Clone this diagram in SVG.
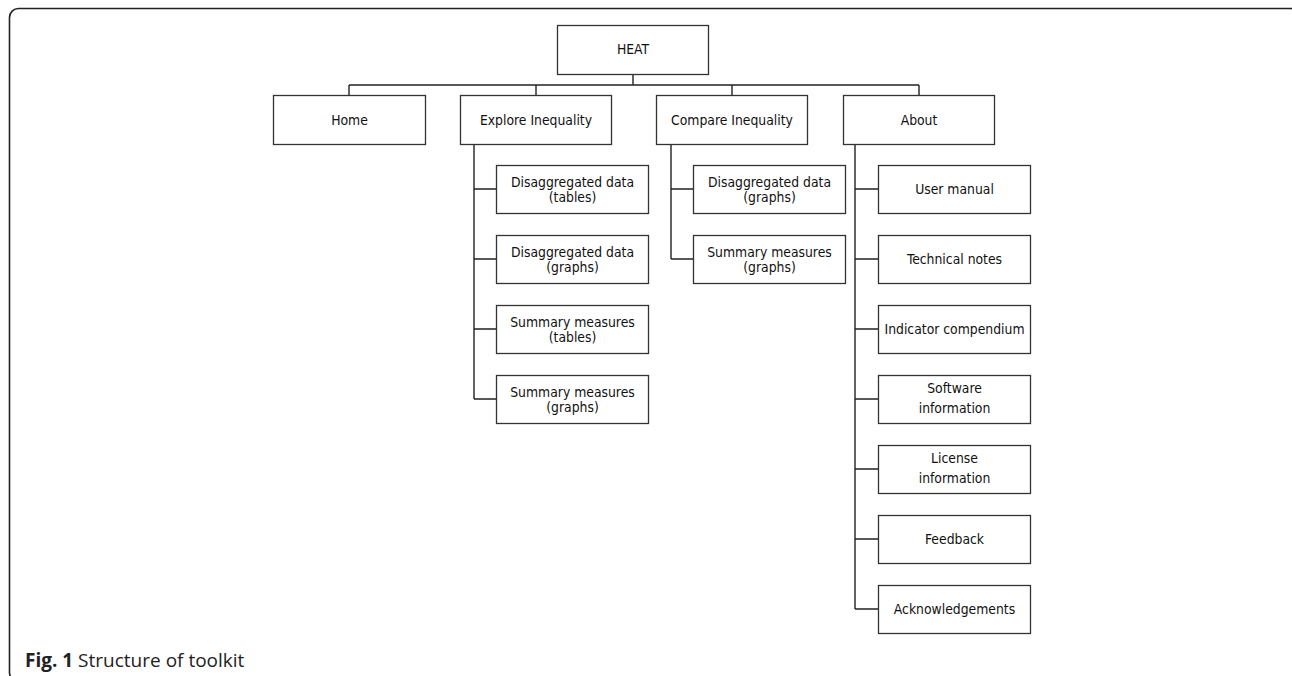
<svg xmlns="http://www.w3.org/2000/svg" width="1292" height="676" viewBox="0 0 1292 676">
<style>
.box{fill:#fff;stroke:#333;stroke-width:1.3}
.t{font-family:"DejaVu Sans Condensed","DejaVu Sans",sans-serif;font-stretch:condensed;font-size:13.8px;fill:#111;text-anchor:middle}
.c{fill:none;stroke:#222;stroke-width:1.4}
.frame{fill:none;stroke:#222;stroke-width:1.6}
.cap{font-family:"Open Sans",sans-serif;font-size:19px;fill:#222}
</style>
<rect width="1292" height="676" fill="#fff"/>
<rect class="frame" x="9.5" y="8.5" width="1290" height="673" rx="9"/>
<g id="connectors">
<path class="c" d="M633 74V85M349 85H919M349 85V95M536 85V95M732 85V95M919 85V95"/>
<path class="c" d="M474 144V399M474 189H496M474 259H496M474 329H496M474 399H496"/>
<path class="c" d="M671 144V259M671 189H693M671 259H693"/>
<path class="c" d="M855 144V609M855 189H878M855 259H878M855 329H878M855 399H878M855 469H878M855 539H878M855 609H878"/>
</g>
<g id="heat"><rect class="box" x="557.5" y="25.5" width="151" height="49"/><text class="t" x="633" y="54">HEAT</text></g>
<g id="home"><rect class="box" x="273.5" y="95.5" width="152" height="49"/><text class="t" x="349.5" y="124.5">Home</text></g>
<g id="explore"><rect class="box" x="460.5" y="95.5" width="151" height="49"/><text class="t" x="536" y="124.5">Explore Inequality</text></g>
<g id="compare"><rect class="box" x="656.5" y="95.5" width="151" height="49"/><text class="t" x="732" y="124.5">Compare Inequality</text></g>
<g id="about"><rect class="box" x="843.5" y="95.5" width="151" height="49"/><text class="t" x="919" y="124.5">About</text></g>
<g id="e1"><rect class="box" x="496.5" y="165.5" width="152" height="48"/><text class="t" x="572.5" y="187">Disaggregated data</text><text class="t" x="572.5" y="202">(tables)</text></g>
<g id="e2"><rect class="box" x="496.5" y="235.5" width="152" height="48"/><text class="t" x="572.5" y="257">Disaggregated data</text><text class="t" x="572.5" y="272">(graphs)</text></g>
<g id="e3"><rect class="box" x="496.5" y="305.5" width="152" height="48"/><text class="t" x="572.5" y="327">Summary measures</text><text class="t" x="572.5" y="342">(tables)</text></g>
<g id="e4"><rect class="box" x="496.5" y="375.5" width="152" height="48"/><text class="t" x="572.5" y="397">Summary measures</text><text class="t" x="572.5" y="412">(graphs)</text></g>
<g id="c1"><rect class="box" x="693.5" y="165.5" width="152" height="48"/><text class="t" x="769.5" y="187">Disaggregated data</text><text class="t" x="769.5" y="202">(graphs)</text></g>
<g id="c2"><rect class="box" x="693.5" y="235.5" width="152" height="48"/><text class="t" x="769.5" y="257">Summary measures</text><text class="t" x="769.5" y="272">(graphs)</text></g>
<g id="a1"><rect class="box" x="878.5" y="165.5" width="152" height="48"/><text class="t" x="954.5" y="194">User manual</text></g>
<g id="a2"><rect class="box" x="878.5" y="235.5" width="152" height="48"/><text class="t" x="954.5" y="264">Technical notes</text></g>
<g id="a3"><rect class="box" x="878.5" y="305.5" width="152" height="48"/><text class="t" x="954.5" y="334">Indicator compendium</text></g>
<g id="a4"><rect class="box" x="878.5" y="375.5" width="152" height="48"/><text class="t" x="954.5" y="393">Software</text><text class="t" x="954.5" y="413">information</text></g>
<g id="a5"><rect class="box" x="878.5" y="445.5" width="152" height="48"/><text class="t" x="954.5" y="463">License</text><text class="t" x="954.5" y="483">information</text></g>
<g id="a6"><rect class="box" x="878.5" y="515.5" width="152" height="48"/><text class="t" x="954.5" y="544">Feedback</text></g>
<g id="a7"><rect class="box" x="878.5" y="585.5" width="152" height="48"/><text class="t" x="954.5" y="614">Acknowledgements</text></g>
<text class="cap" x="25" y="667"><tspan font-weight="bold">Fig. 1</tspan> Structure of toolkit</text>
</svg>
